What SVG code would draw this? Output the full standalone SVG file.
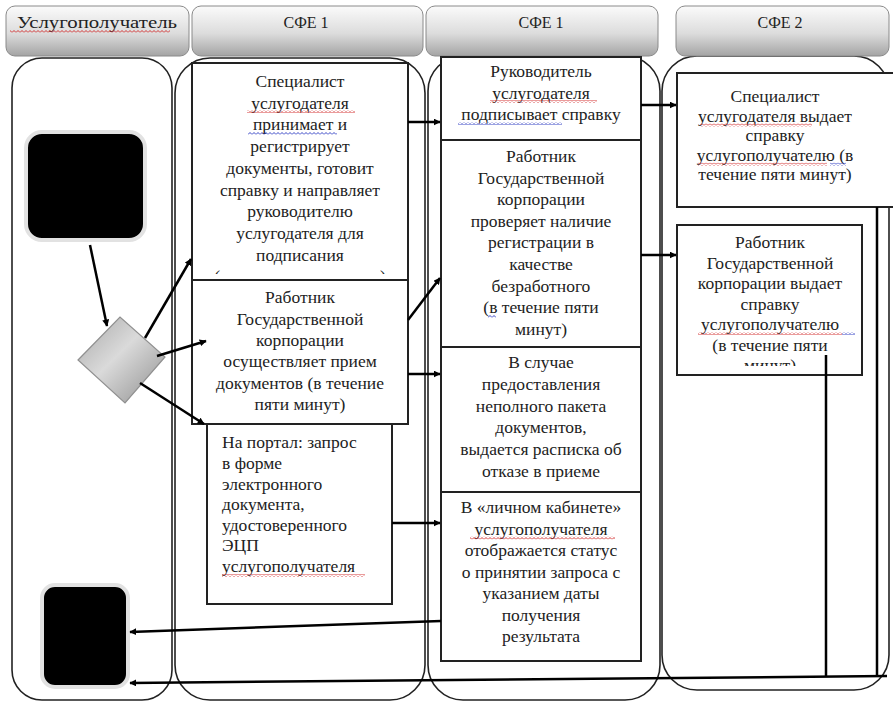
<svg xmlns="http://www.w3.org/2000/svg" width="893" height="702" viewBox="0 0 893 702">
<defs>
<linearGradient id="hdr" x1="0" y1="0" x2="0" y2="1">
<stop offset="0" stop-color="#fbfbfb"/><stop offset="0.55" stop-color="#dcdcdc"/><stop offset="1" stop-color="#a4a4a4"/>
</linearGradient>
<linearGradient id="dia" x1="0" y1="0" x2="1" y2="1">
<stop offset="0" stop-color="#a8a8a8"/><stop offset="0.45" stop-color="#dadada"/><stop offset="1" stop-color="#8e8e8e"/>
</linearGradient>
<marker id="ah" viewBox="0 0 10 10" refX="9" refY="5" markerWidth="7" markerHeight="7" markerUnits="userSpaceOnUse" orient="auto">
<path d="M0,0 L10,5 L0,10 z" fill="#000"/>
</marker>
<pattern id="wr" width="4" height="3" patternUnits="userSpaceOnUse"><path d="M0,2.5 L2,0.5 L4,2.5" fill="none" stroke="#d02020" stroke-width="0.9"/></pattern>
<pattern id="wb" width="4" height="3" patternUnits="userSpaceOnUse"><path d="M0,2.5 L2,0.5 L4,2.5" fill="none" stroke="#2030c0" stroke-width="0.9"/></pattern>
<clipPath id="clipA"><rect x="192" y="63" width="216" height="211"/></clipPath>
<clipPath id="clipI"><rect x="677" y="225" width="185" height="141"/></clipPath>
</defs>
<style>
.lane{fill:#fff;stroke:#222;stroke-width:1.6}
.hdr{fill:url(#hdr);stroke:#8a8a8a;stroke-width:1}
.box{fill:#fff;stroke:#222;stroke-width:2}
.t{font-size:17.5px;fill:#222}
.c{text-anchor:middle}
.h{font-size:16px;fill:#222;text-anchor:middle}
.ln{fill:none;stroke:#000;stroke-width:2.5}
.sr{fill:url(#wr)}
.sb{fill:url(#wb)}
</style>

<g id="lanes">
<rect class="lane" x="12" y="58" width="160" height="642" rx="30"/>
<rect class="lane" x="175" y="58" width="250" height="642" rx="35"/>
<rect class="lane" x="428" y="56" width="232" height="644" rx="35"/>
<rect class="lane" x="662" y="56" width="227" height="634" rx="35"/>
</g>

<g font-family="Liberation Serif, Times New Roman, serif">
<g id="headers">
<rect class="hdr" x="6" y="6" width="183" height="50" rx="9"/>
<rect class="hdr" x="192" y="6" width="231" height="50" rx="9"/>
<rect class="hdr" x="426" y="6" width="232" height="50" rx="9"/>
<rect class="hdr" x="676" y="6" width="213" height="50" rx="9"/>
<text class="h" x="97" y="28" textLength="160" lengthAdjust="spacingAndGlyphs">Услугополучатель</text>
<rect class="sr" x="10" y="30" width="160" height="3"/>
<text class="h" x="306" y="28">СФЕ 1</text>
<text class="h" x="541" y="28">СФЕ 1</text>
<text class="h" x="780" y="28">СФЕ 2</text>
</g>

<g id="start">
<rect x="26" y="132" width="119" height="108" rx="16" fill="#000" stroke="#e2e2e2" stroke-width="4"/>
</g>
<g id="end">
<rect x="42" y="585" width="86" height="102" rx="13" fill="#000" stroke="#e2e2e2" stroke-width="4"/>
</g>
<g id="decision">
<polygon points="78,360 120,317 165,357 125,403" fill="url(#dia)" stroke="#909090" stroke-width="1.2"/>
</g>

<g id="boxA">
<rect class="box" x="192" y="63" width="216" height="218"/>
<g clip-path="url(#clipA)">
<text class="t c" x="300" y="87">Специалист</text>
<text class="t c" x="300" y="108.7">услугодателя</text>
<text class="t c" x="300" y="130.4">принимает и</text>
<text class="t c" x="300" y="152">регистрирует</text>
<text class="t c" x="300" y="173.8">документы, готовит</text>
<text class="t c" x="300" y="195.5">справку и направляет</text>
<text class="t c" x="300" y="217">руководителю</text>
<text class="t c" x="300" y="239">услугодателя для</text>
<text class="t c" x="300" y="260.5">подписания</text>
<text class="t c" x="300" y="282">(в течение пяти минут)</text>
</g>
<rect class="sr" x="247" y="110" width="108" height="3"/>
<rect class="sb" x="248" y="132" width="89" height="3"/>
</g>

<g id="boxB">
<rect class="box" x="192" y="280" width="216" height="144"/>
<text class="t c" x="300" y="303">Работник</text>
<text class="t c" x="300" y="324.5">Государственной</text>
<text class="t c" x="300" y="346">корпорации</text>
<text class="t c" x="300" y="367">осуществляет прием</text>
<text class="t c" x="300" y="389">документов (в течение</text>
<text class="t c" x="300" y="410">пяти минут)</text>
</g>

<g id="boxC">
<rect class="box" x="207" y="424" width="185" height="180"/>
<text class="t" x="222" y="448">На портал: запрос</text>
<text class="t" x="222" y="469">в форме</text>
<text class="t" x="222" y="490">электронного</text>
<text class="t" x="222" y="510">документа,</text>
<text class="t" x="222" y="531">удостоверенного</text>
<text class="t" x="222" y="551">ЭЦП</text>
<text class="t" x="222" y="572">услугополучателя</text>
<rect class="sr" x="222" y="574" width="143" height="3"/>
</g>

<g id="boxD">
<rect class="box" x="441" y="57" width="200" height="83"/>
<text class="t c" x="541" y="77">Руководитель</text>
<text class="t c" x="541" y="98.5">услугодателя</text>
<text class="t c" x="541" y="120">подписывает справку</text>
<rect class="sr" x="490" y="100" width="107" height="3"/>
<rect class="sb" x="458" y="122" width="104" height="3"/>
</g>

<g id="boxE">
<rect class="box" x="441" y="140" width="200" height="207"/>
<text class="t c" x="541" y="162">Работник</text>
<text class="t c" x="541" y="183.6">Государственной</text>
<text class="t c" x="541" y="205.2">корпорации</text>
<text class="t c" x="541" y="226.8">проверяет наличие</text>
<text class="t c" x="541" y="248.4">регистрации в</text>
<text class="t c" x="541" y="270">качестве</text>
<text class="t c" x="541" y="291.6">безработного</text>
<text class="t c" x="541" y="313.2">(в течение пяти</text>
<text class="t c" x="541" y="334.8">минут)</text>
<rect class="sb" x="488" y="315" width="8" height="3"/>
</g>

<g id="boxF">
<rect class="box" x="441" y="347" width="200" height="145"/>
<text class="t c" x="541" y="368">В случае</text>
<text class="t c" x="541" y="389.8">предоставления</text>
<text class="t c" x="541" y="411.6">неполного пакета</text>
<text class="t c" x="541" y="433.4">документов,</text>
<text class="t c" x="541" y="455.2">выдается расписка об</text>
<text class="t c" x="541" y="477">отказе в приеме</text>
</g>

<g id="boxG">
<rect class="box" x="441" y="492" width="200" height="169"/>
<text class="t c" x="541" y="513">В «личном кабинете»</text>
<text class="t c" x="541" y="534.5">услугополучателя</text>
<text class="t c" x="541" y="556">отображается статус</text>
<text class="t c" x="541" y="577.5">о принятии запроса с</text>
<text class="t c" x="541" y="599">указанием даты</text>
<text class="t c" x="541" y="620.5">получения</text>
<text class="t c" x="541" y="642">результата</text>
<rect class="sr" x="470" y="536.5" width="145" height="3"/>
</g>

<g id="boxH">
<rect class="box" x="677" y="73" width="220" height="134"/>
<text class="t c" x="775" y="102">Специалист</text>
<text class="t c" x="775" y="121.6">услугодателя выдает</text>
<text class="t c" x="775" y="141.2">справку</text>
<text class="t c" x="775" y="160.8">услугополучателю (в</text>
<text class="t c" x="775" y="180.4">течение пяти минут)</text>
<rect class="sr" x="700" y="123.6" width="112" height="3"/>
<rect class="sr" x="698" y="162.8" width="129" height="3"/>
<rect class="sb" x="830" y="162.8" width="16" height="3"/>
</g>

<g id="boxI">
<rect class="box" x="677" y="225" width="185" height="150"/>
<g clip-path="url(#clipI)">
<text class="t c" x="770" y="248">Работник</text>
<text class="t c" x="770" y="268.5">Государственной</text>
<text class="t c" x="770" y="289">корпорации выдает</text>
<text class="t c" x="770" y="309.5">справку</text>
<text class="t c" x="770" y="330">услугополучателю</text>
<text class="t c" x="770" y="350.5">(в течение пяти</text>
<text class="t c" x="770" y="371">минут)</text>
</g>
<rect class="sr" x="698" y="332" width="144" height="3"/>
<rect class="sb" x="842" y="332" width="13" height="3"/>
</g>
</g>

<g id="connectors">
<line class="ln" x1="90" y1="245" x2="107" y2="326" marker-end="url(#ah)"/>
<line class="ln" x1="145" y1="338" x2="191" y2="259" marker-end="url(#ah)"/>
<line class="ln" x1="157" y1="356" x2="206" y2="341" marker-end="url(#ah)"/>
<line class="ln" x1="140" y1="383" x2="204" y2="424" marker-end="url(#ah)"/>
<line class="ln" x1="408" y1="122" x2="440" y2="122" marker-end="url(#ah)"/>
<line class="ln" x1="408" y1="320" x2="440" y2="278" marker-end="url(#ah)"/>
<line class="ln" x1="408" y1="374" x2="440" y2="374" marker-end="url(#ah)"/>
<line class="ln" x1="392" y1="523" x2="440" y2="523" marker-end="url(#ah)"/>
<line class="ln" x1="641" y1="105" x2="676" y2="105" marker-end="url(#ah)"/>
<line class="ln" x1="641" y1="255" x2="676" y2="255" marker-end="url(#ah)"/>
<line class="ln" x1="441" y1="621" x2="130" y2="632" marker-end="url(#ah)"/>
<line class="ln" x1="877" y1="207" x2="877" y2="677"/>
<line class="ln" x1="826" y1="355" x2="826" y2="677"/>
<line class="ln" x1="887" y1="676" x2="130" y2="683" marker-end="url(#ah)"/>
</g>
</svg>
